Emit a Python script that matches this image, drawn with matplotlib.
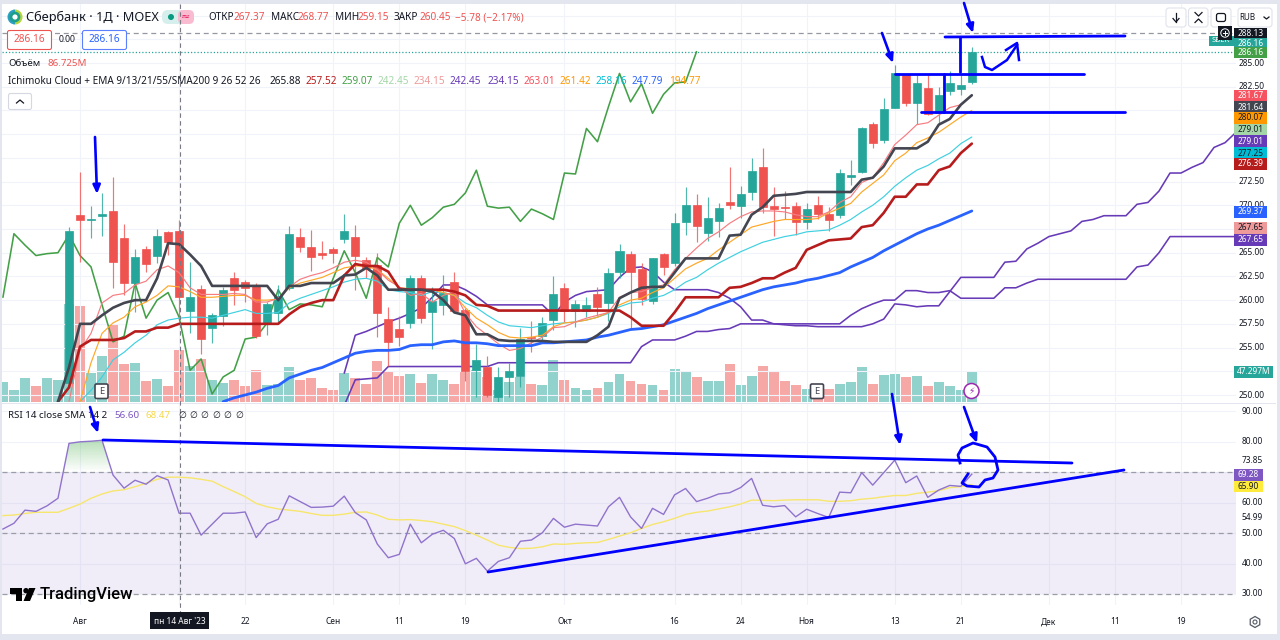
import numpy as np
import matplotlib
matplotlib.use("Agg")
import matplotlib.pyplot as plt
from matplotlib.patches import Rectangle, FancyBboxPatch, Circle, Wedge, Polygon

plt.rcParams['font.family'] = ['Noto Sans', 'DejaVu Sans']

# ---------- data ----------
opens = [251.3,269.0,268.5,268.9,269.4,266.5,261.8,265.4,264.7,267.2,267.3,258.9,261.2,257.1,258.3,262.3,261.9,261.5,257.5,258.6,
         261.3,266.7,265.6,265.0,265.4,266.4,266.7,264.2,263.7,258.0,257.0,257.6,262.3,258.8,259.5,261.9,259.0,252.6,252.9,249.8,
         251.9,252.0,256.1,256.2,257.9,261.3,258.9,258.9,260.6,259.7,263.0,264.9,263.3,259.9,264.9,263.9,268.2,270.0,267.1,268.3,
         270.3,269.9,271.4,274.0,269.9,269.8,269.9,268.2,270.0,269.1,269.0,273.0,273.5,278.6,276.9,280.3,283.7,280.8,282.4,279.7,
         282.0,282.3,283.0]
highs = [267.7,273.5,269.9,271.3,273.0,268.0,265.4,265.7,267.5,267.3,268.5,264.0,261.6,258.6,261.4,263.0,262.1,261.8,259.8,261.6,
         267.8,267.6,267.4,266.2,265.6,269.1,267.9,264.5,265.0,259.3,258.3,262.6,262.7,261.4,262.6,263.0,259.2,255.4,254.1,253.0,
         253.4,257.1,257.8,258.2,262.5,261.8,260.0,260.3,261.4,263.4,265.9,265.2,263.9,264.4,265.0,269.2,271.9,271.2,270.9,270.2,
         274.0,272.0,275.0,276.0,271.9,271.5,270.3,270.2,271.0,269.8,273.8,274.8,278.2,278.8,281.3,284.8,283.8,283.7,283.7,282.5,
         284.2,283.7,286.7]
lows = [251.0,264.0,266.5,266.8,261.3,260.5,258.8,263.0,263.9,264.8,257.9,256.5,254.3,255.5,257.3,259.5,259.8,256.0,256.3,257.6,
        261.1,265.1,263.1,264.3,263.9,266.0,261.1,262.3,256.1,253.1,255.2,257.1,257.6,254.9,258.4,258.7,251.5,249.8,249.8,249.2,
        249.8,250.8,254.5,255.6,256.8,257.7,257.2,258.2,258.3,257.8,262.3,257.0,259.5,259.6,262.6,263.6,266.9,266.1,266.2,266.7,
        269.6,268.7,270.6,269.2,266.8,268.6,266.9,267.5,268.6,267.3,268.7,272.1,273.4,276.0,276.6,280.3,280.5,278.6,279.5,278.7,
        281.6,281.6,282.8]
closes = [267.3,268.4,268.6,269.1,264.0,261.8,264.5,263.8,266.8,266.1,260.3,260.3,255.9,258.4,261.1,261.1,261.3,256.2,259.6,260.4,
          267.0,265.6,264.5,264.8,265.0,267.3,264.7,263.4,258.6,255.6,256.1,262.3,258.1,259.9,260.8,258.9,252.5,253.7,250.0,251.9,
          252.5,255.9,256.0,257.6,260.6,258.9,259.6,259.5,259.3,262.9,265.2,263.0,260.1,264.4,263.5,268.1,270.0,267.8,268.7,269.7,
          270.0,271.2,273.6,269.8,269.6,269.7,268.2,269.6,269.1,268.5,273.4,273.2,278.1,276.6,280.1,283.9,280.8,282.9,279.6,281.6,
          282.9,282.7,286.2]

pre_volume = [31.5,18.9,37.8,25.2,37.8,34.7]
pre_volume_up = [True,True,True,False,True,True]
volume = [154.4,151.3,45.7,72.5,122.9,59.9,61.5,33.1,36.2,25.2,82.0,56.7,67.8,34.7,29.9,34.7,25.2,50.4,26.8,28.4,
          55.2,34.7,37.8,22.1,18.9,45.7,37.8,28.4,64.6,47.3,41.0,44.1,29.9,44.1,34.7,28.4,48.9,50.4,39.4,18.9,
          31.5,39.4,28.4,26.8,66.2,34.7,22.1,18.9,22.1,31.5,44.1,33.1,28.4,26.8,18.9,52.0,48.9,39.4,33.1,33.1,
          59.9,26.8,41.0,56.7,47.3,33.1,26.8,20.5,15.8,20.5,28.4,31.5,55.2,28.4,42.6,44.1,39.4,41.0,25.2,31.5,
          25.2,18.9,47.3]

chikou = [260.3,267.0,265.8,264.7,264.9,265.0,266.9,264.7,263.5,259.5,255.6,256.2,261.8,258.1,260.0,260.8,258.2,252.6,253.8,250.1,
          251.9,252.6,255.9,256.1,257.6,261.1,259.0,259.6,259.5,259.3,262.3,265.2,262.9,260.2,264.5,263.5,268.1,270.0,267.9,268.7,
          269.8,270.1,271.3,273.7,269.9,269.7,269.8,268.3,269.6,269.1,268.5,273.4,273.3,278.1,276.7,280.4,283.9,280.9,282.8,279.7,
          281.7,282.9,283.0,286.2]
tenkan = [249.3,252.9,257.5,257.5,258.4,259.2,259.7,260.0,260.0,262.3,266.0,265.9,264.8,263.6,261.5,261.5,261.5,261.5,261.5,261.5,
          260.0,261.5,261.5,261.8,261.8,261.8,262.6,262.7,263.4,262.6,261.1,261.1,261.1,261.1,260.9,260.0,258.7,258.4,256.4,256.4,
          255.8,255.7,255.7,255.7,255.7,255.6,255.6,255.6,255.6,256.3,257.2,260.2,260.8,261.3,261.4,261.4,262.9,264.4,264.4,264.4,
          264.4,266.8,266.9,269.0,269.8,271.0,271.1,271.2,271.4,271.4,271.4,271.4,271.4,272.7,272.9,274.1,276.0,276.0,276.0,276.7,
          278.5,279.1,280.6,281.6]
kijun = [249.3,250.8,255.1,255.8,255.8,255.8,256.0,256.7,256.7,257.1,257.1,257.5,257.5,257.5,257.5,257.5,257.5,257.5,257.5,257.5,
         257.5,258.5,259.3,259.7,260.0,260.0,262.6,263.8,263.6,263.6,263.0,261.2,261.1,261.1,261.1,261.1,260.9,260.5,259.5,259.4,
         258.9,258.9,258.9,258.9,258.9,258.9,258.9,258.9,258.9,258.9,258.9,258.9,258.2,257.3,257.3,257.3,258.7,260.3,260.3,260.3,
         260.3,261.3,261.4,261.8,262.3,262.3,262.9,263.4,265.3,265.8,266.3,266.4,266.5,267.7,267.9,269.2,270.9,270.9,272.2,272.2,
         273.7,274.1,275.5,276.5]
ema9 = [249.3,254.7,256.5,259.7,260.5,260.7,261.6,262.0,263.2,263.6,262.9,261.3,260.6,260.6,260.6,260.7,260.6,259.8,259.8,260.2,
        261.4,262.2,262.6,262.9,263.4,264.0,264.2,264.0,263.2,262.1,261.4,260.5,260.7,259.8,260.5,260.9,258.6,257.2,256.3,255.4,
        254.7,254.9,255.5,256.1,257.1,257.2,257.7,258.1,258.4,258.7,260.3,260.8,260.9,261.3,261.6,263.2,264.4,265.5,266.5,267.2,
        268.1,268.8,269.3,269.4,269.4,269.3,269.0,268.8,268.8,269.3,270.3,270.9,272.4,272.9,274.5,276.4,277.4,278.5,278.7,279.5,
        280.3,280.6,281.6]
ema13 = [249.3,253.4,256.5,257.6,258.2,259.3,259.8,260.5,261.5,261.4,260.9,260.3,260.3,260.4,260.5,260.5,260.0,260.0,260.1,261.3,
         261.8,262.1,262.4,262.9,263.4,263.6,263.6,263.2,262.3,261.3,261.2,261.0,261.1,260.8,260.5,259.2,258.1,257.4,256.6,256.1,
         256.0,256.1,256.3,257.2,257.6,257.7,257.9,258.2,258.7,259.5,260.0,260.2,260.8,261.3,262.3,263.3,263.9,264.4,265.3,266.1,
         266.9,267.7,268.0,268.3,268.5,268.5,268.5,268.6,269.2,269.7,270.2,271.4,272.3,273.2,274.7,275.5,276.6,277.1,277.7,278.5,
         279.3,280.0]
ema21 = [249.3,250.5,251.9,253.7,254.5,255.5,256.3,257.4,257.9,258.1,258.2,258.2,258.1,258.4,258.7,259.0,258.6,258.6,258.7,259.7,
         260.2,260.6,261.0,261.4,261.9,262.2,262.3,262.0,261.1,260.9,260.8,260.5,260.9,260.8,260.5,259.7,259.2,258.4,257.7,257.3,
         257.2,257.1,257.3,257.5,257.6,257.7,257.9,258.2,258.6,259.3,259.7,259.8,260.2,260.5,261.1,261.9,262.4,263.2,263.9,264.5,
         265.1,265.6,266.1,266.4,266.7,266.9,267.2,267.3,267.4,267.9,268.5,269.3,270.0,270.9,272.0,272.9,273.7,274.2,274.9,275.5,
         276.5,277.2]
sma55 = [249.3,249.7,250.0,250.3,250.7,251.0,251.8,252.2,252.6,252.9,253.4,253.9,254.4,254.6,254.7,254.7,254.8,255.2,255.3,255.3,
         255.6,255.7,255.5,255.5,255.4,255.2,255.2,255.2,255.2,255.5,255.5,255.6,255.7,255.8,256.1,256.3,256.6,256.9,257.0,257.2,
         257.4,257.8,258.2,258.6,259.1,259.5,259.9,260.3,260.7,261.1,261.4,261.6,261.8,262.1,262.3,262.6,262.9,263.5,264.0,264.5,
         265.2,265.8,266.4,267.0,267.5,267.9,268.4,268.9,269.4]
senkou_b = [252.3,256.3,256.7,257.2,257.7,258.1,258.6,259.2,260.3,261.6,261.6,261.1,260.4,259.5,259.5,259.5,259.5,259.5,259.5,258.4,
            259.8,260.5,260.9,261.0,261.1,262.4,263.4,263.5,263.0,261.9,261.1,261.1,261.1,261.1,260.8,260.2,259.3,257.9,257.9,257.5,
            257.5,257.5,257.5,257.5,257.5,257.5,258.4,259.1,259.6,260.0,260.0,261.0,261.0,260.8,260.8,261.0,260.2,260.2,260.2,260.2,
            261.3,261.3,261.8,262.2,262.2,262.2,262.2,262.2,262.2,262.2,262.2,262.2,263.5,263.7,265.0,266.7,266.7,266.7,266.7,266.7,
            266.7,266.7]
senkou_a = [248.9,251.6,251.7,251.8,253.0,253.0,253.0,253.0,253.0,253.0,253.0,253.0,253.0,253.0,253.4,253.4,253.4,253.4,253.4,253.4,
            253.4,253.4,253.4,253.4,253.4,253.4,253.4,255.1,255.8,255.8,255.8,256.2,256.7,256.7,256.9,257.0,257.5,257.5,257.5,257.5,
            257.4,257.3,257.3,257.2,257.2,257.2,257.2,257.2,257.5,258.0,259.6,259.5,259.3,259.4,259.4,260.9,262.4,262.4,262.4,262.4,
            264.0,264.1,265.4,266.0,266.7,267.0,267.3,268.3,268.5,268.9,268.9,268.9,270.1,270.3,271.5,273.4,273.4,274.0,274.5,276.1,
            276.6,277.7]

rsi = [51.3,53.2,57.5,57.1,58.9,61.4,79.4,79.9,80.1,80.4,69.0,64.7,67.3,66.0,68.8,67.4,56.5,56.5,49.3,52.9,
       56.5,56.5,56.9,48.5,53.0,54.5,62.2,60.3,58.4,58.5,58.8,62.1,56.7,54.3,46.4,41.9,43.0,52.9,46.8,49.6,
       50.9,48.2,39.9,41.7,37.5,40.7,41.9,47.3,47.7,50.1,54.8,51.9,52.9,52.6,52.3,58.6,61.7,55.3,51.5,58.1,
       56.1,62.5,64.6,60.3,61.4,62.8,63.2,64.9,67.9,59.1,58.6,59.0,55.3,57.8,56.4,55.1,63.4,63.2,69.8,65.7,
       69.8,73.9,66.5,68.7,61.7,64.1,65.6,65.3,69.3]
rsi_sma = [55.7,55.9,56.4,56.8,56.8,56.8,58.1,59.5,61.4,62.8,63.8,64.2,65.2,66.3,67.6,68.3,68.3,68.1,67.6,67.0,
           65.2,63.6,61.9,59.7,58.6,57.9,57.5,57.1,56.4,55.8,55.8,56.2,56.8,56.9,55.9,54.5,54.3,54.4,54.1,53.7,
           52.9,52.1,50.8,49.3,47.7,46.0,45.3,44.9,45.0,45.5,46.4,46.3,46.6,46.8,46.9,47.9,49.0,50.1,51.5,52.8,
           53.7,54.8,56.1,56.8,57.2,57.9,58.6,59.5,60.8,60.7,60.6,60.8,60.9,60.9,60.9,60.4,60.4,60.6,61.1,61.4,
           61.9,62.3,62.3,63.0,63.4,63.9,64.9,65.2,65.9]

time_tick_idx = [1,10,16,24,30,36,45,55,61,67,75,81,89,95,101]
time_tick_lab = ['Авг','','22','Сен','11','19','Окт','16','24','Ноя','13','21','Дек','11','19']
price_ticks = [250,252.5,255,257.5,260,262.5,265,267.5,270,272.5,275,277.5,280,282.5,285,287.5,290]
hidden_price_labels = [252.5,267.5,275,277.5,280,287.5,290]
rsi_ticks = [30,40,50,60,70,80,90]
hidden_rsi_labels = [70]

# hand-drawn blue annotations, screen pixels of the annotated screenshot
blue_segments = [((945,37),(1125,36)),((895,74),(1084,74)),((921,112),(1125,112)),((960,37),(960,72)),
                 ((943.5,74),(943.5,112)),((103,440),(1072,463)),((488,572),(1124,470))]
blue_arrows = [((95,137),(97,194)),((964,3),(973,33)),((882,33),(893,63)),((90,407),(98,433)),
               ((892,394),(900,445)),((964,407),(977,443))]
blue_curve = [(982,57),(985,67),(992,70),(1007,60),(1017,45)]
blue_head = [(1006,50),(1017,43),(1019,60)]
blue_circle = [(960,463),(958,455),(962,448),(973,443),(987,447),(995,457),(998,470),(993,478),(985,480),(979,487),(967,486),(962,483),(968,474)]

# ---------- layout ----------
W, H = 1280, 640
fig = plt.figure(figsize=(12.8, 6.4), dpi=100, facecolor='white')
def rect(x0, y0, x1, y1):
    return [x0/W, 1-y1/H, (x1-x0)/W, (y1-y0)/H]
px = lambda p: (p-69)/11.01
X_L, X_R = 2, 1236
xlim = (px(X_L), px(X_R))

GRID = '#f0f3fa'
UP, DN = '#26a69a', '#ef5350'

ax_vol = fig.add_axes(rect(X_L, 4, X_R, 402), zorder=1)
ax = fig.add_axes(rect(X_L, 4, X_R, 402), zorder=2)
ax_rsi = fig.add_axes(rect(X_L, 404, X_R, 605), zorder=2)
ov = fig.add_axes([0, 0, 1, 1], zorder=10)
ov.set_xlim(0, W); ov.set_ylim(H, 0); ov.axis('off'); ov.patch.set_alpha(0)

# volume
idx = np.arange(len(opens))
o, h, l, c = map(np.array, (opens, highs, lows, closes))
up = c >= o
vx = np.arange(-len(pre_volume), len(volume))
vv = np.array(pre_volume + volume)
vup = np.concatenate([pre_volume_up, up])
ax_vol.bar(vx, vv, width=0.9, color=[UP if u else DN for u in vup], alpha=0.5, linewidth=0)
ax_vol.set_xlim(*xlim); ax_vol.set_ylim(0, 627)
ax_vol.axis('off')

# main
ax.patch.set_alpha(0)
ax.set_xlim(*xlim); ax.set_ylim(249.26, 291.22)
ax.set_xticks(time_tick_idx); ax.set_yticks(price_ticks)
ax.grid(True, color=GRID, lw=0.8); ax.set_axisbelow(True)
ax.tick_params(length=0, labelbottom=False, labelleft=False, labelright=False)
for s in ax.spines.values(): s.set_visible(False)

def line(values, start, **kw):
    return ax.plot(start+np.arange(len(values)), values, solid_capstyle='round', **kw)

line(senkou_a, 25, color='#673ab7', lw=1.15, zorder=3)
line(senkou_b, 25, color='#673ab7', lw=1.15, zorder=3)
line(chikou, -6, color='#43a047', lw=1.15, zorder=3)

ax.vlines(idx, l, h, colors=[UP if u else DN for u in up], lw=0.85, alpha=0.8, zorder=4)
ax.bar(idx, np.abs(c-o), bottom=np.minimum(o, c), width=0.73,
       color=[UP if u else DN for u in up], edgecolor=[UP if u else DN for u in up], lw=0.5, zorder=5)

line(ema21, 1, color='#3fd0e0', lw=0.85, zorder=6)
line(ema13, 1, color='#ffa726', lw=0.85, zorder=6)
line(ema9, 0, color='#f77c80', lw=0.85, zorder=6)
line(sma55, 14, color='#2962ff', lw=2.0, zorder=6)
line(kijun, -1, color='#b71c1c', lw=1.9, zorder=6)
line(tenkan, -1, color='#434651', lw=1.9, zorder=6)

ax.axhline(288.13, color='#9598a1', lw=0.9, ls=(0, (4, 3)), zorder=2)
ax.axhline(286.16, color='#26a69a', lw=0.9, ls=(0, (1, 1.6)), zorder=2)

# RSI
ax_rsi.set_xlim(*xlim); ax_rsi.set_ylim(26.4, 92.3)
ax_rsi.set_xticks(time_tick_idx); ax_rsi.set_yticks(rsi_ticks)
ax_rsi.grid(True, color=GRID, lw=0.8); ax_rsi.set_axisbelow(True)
ax_rsi.tick_params(length=0, labelbottom=False, labelleft=False, labelright=False)
for s in ax_rsi.spines.values(): s.set_visible(False)
ax_rsi.axhspan(30, 70, color='#7e57c2', alpha=0.1, lw=0, zorder=1)
for lv in (30, 50, 70):
    ax_rsi.axhline(lv, color='#9a9ca6', lw=0.9, ls=(0, (4, 3)), zorder=2)
rx = np.arange(len(rsi)) - 6
ax_rsi.plot(rx, rsi_sma, color='#f7e66d', lw=1.0, zorder=3)
ax_rsi.plot(rx, rsi, color='#8f73cc', lw=1.0, zorder=4)
# gradient above 70 (first excursion only)
r = np.array(rsi)
i0 = 6; i1 = 9
xa = rx[i0-1] + (70-r[i0-1])/(r[i0]-r[i0-1])
xb = rx[i1] + (70-r[i1])/(r[i1+1]-r[i1])
poly = Polygon([(xa,70)]+list(zip(rx[i0:i1+1], r[i0:i1+1]))+[(xb,70)], closed=True, transform=ax_rsi.transData, fc='none', ec='none')
ax_rsi.add_patch(poly)
grad = np.zeros((64, 1, 4))
grad[..., 0], grad[..., 1], grad[..., 2] = 0.30, 0.69, 0.31
grad[:, 0, 3] = np.linspace(0.42, 0.0, 64)
im = ax_rsi.imshow(grad, extent=[xa, xb, 70, 81], aspect='auto', origin='upper', zorder=2)
im.set_clip_path(poly)
ax_rsi.set_xlim(*xlim); ax_rsi.set_ylim(26.4, 92.3)

# ---------- frame ----------
BORDER = '#e3e6ee'
ov.add_patch(Rectangle((0, 0), W, 3.5, fc=BORDER, lw=0))
ov.add_patch(Rectangle((0, 633.5), W, 7, fc=BORDER, lw=0))
ov.add_patch(Rectangle((0, 0), 1.5, H, fc=BORDER, lw=0))
ov.add_patch(Rectangle((1277, 0), 3, H, fc=BORDER, lw=0))
ov.add_patch(Rectangle((0, 402.5), 1276, 1.6, fc=BORDER, lw=0))
ov.plot([180, 180], [4, 612], color='#787b86', lw=0.8, ls=(0, (4, 3)))

# ---------- right scale ----------
TC = '#131722'
for v in price_ticks:
    y = 63 + (285-v)*9.486
    if v not in hidden_price_labels:
        ov.text(1252, y, f'{v:.2f}', ha='center', va='center', fontsize=6.0, color=TC)
for v in rsi_ticks:
    y = 594 - (v-30)*3.05
    if v not in hidden_rsi_labels:
        ov.text(1252, y, f'{v:.2f}', ha='center', va='center', fontsize=6.0, color=TC)
for v in (73.85, 54.99):
    y = 594 - (v-30)*3.05
    ov.text(1252, y, f'{v:.2f}', ha='center', va='center', fontsize=6.0, color=TC)

def tag(y, txt, bg, fg='white', x0=1234, x1=1267):
    ov.add_patch(Rectangle((x0, y-5.8), x1-x0, 11.6, fc=bg, lw=0, zorder=3))
    ov.text((x0+x1)/2, y, txt, ha='center', va='center', fontsize=6.0, color=fg, zorder=4)

tag(34, '288.13', '#131722')
tag(44, '286.16', '#26a69a')
tag(52.5, '286.16', '#43a047')
tag(95.5, '281.67', '#f7525f')
tag(107, '281.64', '#434651')
tag(118, '280.07', '#ff9800', TC)
tag(129.5, '279.01', '#a5d6a7', TC)
tag(141, '279.01', '#673ab7')
tag(153, '277.25', '#00bcd4', TC)
tag(164, '276.39', '#b71c1c')
tag(212, '269.37', '#2962ff')
tag(228, '267.65', '#ef9a9a', TC)
tag(240, '267.65', '#673ab7')
tag(372, '47.297M', '#26a69a', 'white', 1234, 1273)
tag(474.7, '69.28', '#7e57c2', 'white', 1234, 1263)
tag(486.5, '65.90', '#ffeb3b', TC, 1234, 1263)

# SBER tag + plus
ov.add_patch(Rectangle((1209, 36), 25, 10, fc='#26a69a', lw=0, zorder=3))
ov.text(1221, 41, 'SBER', ha='center', va='center', fontsize=5.5, color='white', zorder=4)
ov.add_patch(Rectangle((1218, 26), 14, 14, fc='#131722', lw=0, zorder=5))
ov.add_patch(Circle((1225, 33), 4.2, fc='none', ec='white', lw=0.7, zorder=6))
ov.plot([1222.7, 1227.3], [33, 33], color='white', lw=0.7, zorder=6)
ov.plot([1225, 1225], [30.7, 35.3], color='white', lw=0.7, zorder=6)

# ---------- time axis ----------
for i, lab in zip(time_tick_idx, time_tick_lab):
    if lab:
        ov.text(69+11.01*i, 622, lab, ha='center', va='center', fontsize=6.0, color=TC)
ov.add_patch(Rectangle((150, 612), 59, 17, fc='#131722', lw=0, zorder=3))
ov.text(179.5, 621, "пн 14 Авг '23", ha='center', va='center', fontsize=6.0, color='white', zorder=4)

# gear
ang = np.linspace(0, 2*np.pi, 7)[:-1] + np.pi/6
ov.add_patch(Polygon(np.c_[1255+5.5*np.cos(ang), 622+5.5*np.sin(ang)], closed=True, fc='none', ec='#555a66', lw=0.9))
ov.add_patch(Circle((1255, 622), 2, fc='none', ec='#555a66', lw=0.8))

# ---------- header ----------
ov.add_patch(Wedge((15, 17), 7.5, 90, 270, fc='#2a9fc0', lw=0))
ov.add_patch(Wedge((15, 17), 7.5, 270, 90, fc='#b5d43a', lw=0))
ov.add_patch(Wedge((15, 17), 5.3, 0, 360, fc='#1e9e8a', lw=0))
ov.add_patch(Circle((15, 17), 2.6, fc='white', lw=0))
ov.text(26, 17.5, 'Сбербанк · 1Д · MOEX', ha='left', va='center', fontsize=9.2, color=TC)
ov.add_patch(FancyBboxPatch((162, 10), 22, 14, boxstyle='round,pad=0,rounding_size=6', fc='#d6efec', lw=0))
ov.add_patch(FancyBboxPatch((178, 10), 16, 14, boxstyle='round,pad=0,rounding_size=5', fc='#f8bbd0', lw=0))
ov.add_patch(Circle((171, 17), 3, fc='#089981', lw=0))
ov.text(186, 17, '≈', ha='center', va='center', fontsize=8, color='#e91e63')
for x, t, col in [(208,'ОТКР',TC),(234,'267.37',DN),(271,'МАКС',TC),(298,'268.77',DN),(335,'МИН',TC),
                  (358,'259.15',DN),(394,'ЗАКР',TC),(419,'260.45',DN),(455,'−5.78 (−2.17%)',DN)]:
    ov.text(x, 17.5, t, ha='left', va='center', fontsize=7.2, color=col)

ov.add_patch(FancyBboxPatch((7.5, 30.5), 44, 19, boxstyle='round,pad=0,rounding_size=2', fc='white', ec='#ef5350', lw=0.8))
ov.text(29.5, 40, '286.16', ha='center', va='center', fontsize=7.2, color='#ef5350')
ov.text(67, 40, '0.00', ha='center', va='center', fontsize=6.2, color=TC)
ov.add_patch(FancyBboxPatch((82.5, 30.5), 44, 19, boxstyle='round,pad=0,rounding_size=2', fc='white', ec='#5b7fff', lw=0.8))
ov.text(104.5, 40, '286.16', ha='center', va='center', fontsize=7.2, color='#2962ff')

ov.text(8, 63, 'Объём', ha='left', va='center', fontsize=7.0, color=TC)
ov.text(47, 63, '86.725M', ha='left', va='center', fontsize=7.0, color='#ef5350')
ov.text(8, 82, 'Ichimoku Cloud + EMA 9/13/21/55/SMA200 9 26 52 26', ha='left', va='center', fontsize=7.2, color=TC)
for x, t, col in [(269,'265.88',TC),(305,'257.52','#b71c1c'),(341,'259.07','#43a047'),(378,'242.45','#a5d6a7'),
                  (414,'234.15','#ef9a9a'),(450,'242.45','#673ab7'),(487,'234.15','#673ab7'),(523,'263.01','#f7525f'),
                  (559,'261.42','#ff9800'),(596,'258.16','#00bcd4'),(632,'247.79','#2962ff'),(669,'194.77','#ff9800')]:
    ov.text(x, 82, t, ha='left', va='center', fontsize=7.2, color=col)
ov.add_patch(FancyBboxPatch((8.5, 93.5), 23, 16, boxstyle='round,pad=0,rounding_size=2', fc='white', ec='#d5d8e0', lw=0.8))
ov.plot([16.5, 20, 23.5], [103, 100, 103], color='#131722', lw=0.9)

ov.text(8, 415, 'RSI 14 close SMA 14 2', ha='left', va='center', fontsize=7.0, color=TC)
ov.text(114, 415, '56.60', ha='left', va='center', fontsize=7.0, color='#7e57c2')
ov.text(145, 415, '68.47', ha='left', va='center', fontsize=7.0, color='#f5d94a')
for k in range(6):
    ov.text(178+11.4*k, 415, '∅', ha='left', va='center', fontsize=6.5, color=TC)

# buttons
for x0, x1 in [(1166,1186),(1188.5,1208),(1211,1231)]:
    ov.add_patch(FancyBboxPatch((x0, 8), x1-x0, 19, boxstyle='round,pad=0,rounding_size=3', fc='white', ec='#e0e3eb', lw=0.8))
ov.add_patch(FancyBboxPatch((1238, 8), 34, 19, boxstyle='round,pad=0,rounding_size=3', fc='white', ec='#e0e3eb', lw=0.8))
ov.text(1247, 17.5, 'RUB', ha='center', va='center', fontsize=5.8, color=TC)
ov.plot([1264, 1266.5, 1269], [17, 19, 17], color=TC, lw=0.9)
ov.plot([1176, 1176], [13, 22], color=TC, lw=0.9)
ov.plot([1173, 1176, 1179], [18.5, 22, 18.5], color=TC, lw=0.9)
ov.plot([1195, 1198.5, 1202], [12.5, 16, 12.5], color=TC, lw=0.9)
ov.plot([1195, 1198.5, 1202], [22.5, 19, 22.5], color=TC, lw=0.9)
ov.add_patch(FancyBboxPatch((1216.5, 13.5), 9, 8, boxstyle='round,pad=0,rounding_size=2', fc='none', ec=TC, lw=0.9))

# event markers
for cx in (101.5, 817):
    ov.add_patch(FancyBboxPatch((cx-6.5, 384), 13, 14.5, boxstyle='round,pad=0,rounding_size=1.5', fc='white', ec='#434651', lw=1.2, zorder=3))
    ov.text(cx, 391.5, 'E', ha='center', va='center', fontsize=6.8, color='#434651', zorder=4)
ov.add_patch(Circle((971.5, 391), 7.5, fc='white', ec='#9c27b0', lw=1.1, zorder=3))
ov.text(971.5, 391, '⚡', ha='center', va='center', fontsize=6.5, color='#9c27b0', zorder=4, family=['DejaVu Sans'])

# TradingView logo
ov.add_patch(Polygon([(10,588),(21.5,588),(21.5,601),(15.5,601),(15.5,593.5),(10,593.5)], closed=True, fc='black', lw=0))
ov.add_patch(Circle((26, 590.7), 2.7, fc='black', lw=0))
ov.add_patch(Polygon([(29,588),(35.5,588),(30,601),(23.5,601)], closed=True, fc='black', lw=0))
ov.text(40, 595, 'TradingView', ha='left', va='center', fontsize=12.0, fontweight='medium', family=['Roboto', 'DejaVu Sans'], color='black')

# ---------- blue hand drawing ----------
BL = '#0000ff'
for (a, b) in blue_segments:
    ov.plot([a[0], b[0]], [a[1], b[1]], color=BL, lw=2.0, solid_capstyle='round', zorder=7)
for (a, b) in blue_arrows:
    ov.annotate('', xy=b, xytext=a, arrowprops=dict(arrowstyle='-|>,head_length=0.5,head_width=0.22', color=BL, lw=1.9, shrinkA=0, shrinkB=0), zorder=7)
ov.plot(*zip(*blue_curve), color=BL, lw=1.8, zorder=7)
ov.plot(*zip(*blue_head), color=BL, lw=1.8, zorder=7)
ov.plot(*zip(*blue_circle), color=BL, lw=2.0, zorder=7)
ov.set_xlim(0, W); ov.set_ylim(H, 0)

fig.savefig('out.png', dpi=100, facecolor='white')
